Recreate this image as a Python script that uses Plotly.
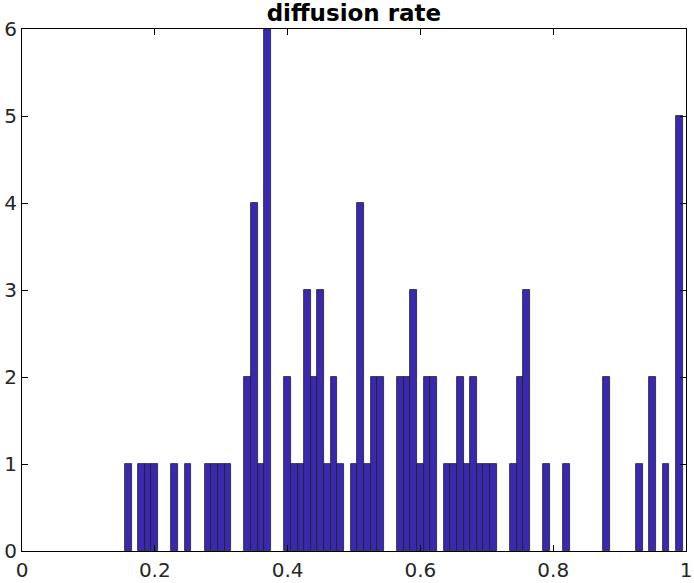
import plotly.graph_objects as go

bin_centers = [0.16, 0.18, 0.19, 0.20, 0.23, 0.25, 0.28, 0.29, 0.30, 0.31,
               0.34, 0.35, 0.36, 0.37, 0.40, 0.41, 0.42, 0.43, 0.44, 0.45,
               0.46, 0.47, 0.48, 0.50, 0.51, 0.52, 0.53, 0.54, 0.57, 0.58,
               0.59, 0.60, 0.61, 0.62, 0.64, 0.65, 0.66, 0.67, 0.68, 0.69,
               0.70, 0.71, 0.74, 0.75, 0.76, 0.79, 0.82, 0.88, 0.93, 0.95,
               0.97, 0.99]
counts = [1, 1, 1, 1, 1, 1, 1, 1, 1, 1,
          2, 4, 1, 6, 2, 1, 1, 3, 2, 3,
          1, 2, 1, 1, 4, 1, 2, 2, 2, 2,
          3, 1, 2, 2, 1, 1, 2, 1, 2, 1,
          1, 1, 1, 2, 3, 1, 1, 2, 1, 2,
          1, 5]
bin_width = 0.01
x_ticks = [0, 0.2, 0.4, 0.6, 0.8, 1]
x_tick_labels = ["0", "0.2", "0.4", "0.6", "0.8", "1"]
y_ticks = [0, 1, 2, 3, 4, 5, 6]

fig = go.Figure()
fig.add_trace(go.Bar(
    x=bin_centers, y=counts, width=bin_width,
    marker=dict(color="rgb(58,42,170)", line=dict(color="rgb(30,25,60)", width=0.8)),
    showlegend=False, cliponaxis=False,
))

axis_common = dict(showline=True, linecolor="black", linewidth=1, mirror="ticks",
                   ticks="inside", ticklen=6, tickcolor="black", showgrid=False,
                   zeroline=False, automargin=False,
                   tickfont=dict(family="DejaVu Sans", size=20, color="#262626"))

fig.update_layout(
    width=694, height=583,
    margin=dict(l=22, r=8, t=29, b=32, pad=0),
    paper_bgcolor="white", plot_bgcolor="white",
    title=dict(text="<b>diffusion rate</b>", x=0.51, xanchor="center", y=0.978, yanchor="middle",
               font=dict(family="DejaVu Sans", size=23, color="black")),
    xaxis=dict(range=[0, 1], tickvals=x_ticks, ticktext=x_tick_labels,
               ticklabelstandoff=1, **axis_common),
    yaxis=dict(range=[0, 6], tickvals=y_ticks, **axis_common),
    bargap=0,
)

fig.write_html("out.html", config={"displayModeBar": False},
               post_script="document.body.style.margin='0';")
